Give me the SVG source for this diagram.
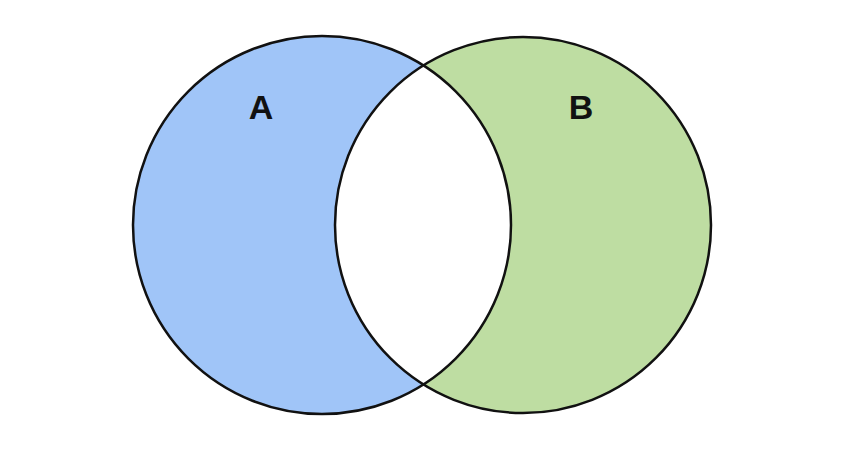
<svg xmlns="http://www.w3.org/2000/svg" width="846" height="464" viewBox="0 0 846 464">
<style>
.o{fill:none;stroke:#111;stroke-width:2.5}
.t{font-family:"Liberation Sans",Arial,sans-serif;font-weight:bold;font-size:34px;fill:#111;text-anchor:middle}
</style>
<defs><clipPath id="ca"><circle cx="322" cy="225" r="189"/></clipPath></defs>
<rect width="846" height="464" fill="#fff"/>
<g id="A"><circle cx="322" cy="225" r="189" fill="#a0c5f8"/></g>
<g id="B"><circle cx="523" cy="225" r="188" fill="#bedda2"/></g>
<circle cx="523" cy="225" r="188" fill="#fff" clip-path="url(#ca)"/>
<circle class="o" cx="322" cy="225" r="189"/>
<circle class="o" cx="523" cy="225" r="188"/>
<text class="t" x="261" y="119">A</text>
<text class="t" x="581" y="119">B</text>
</svg>
